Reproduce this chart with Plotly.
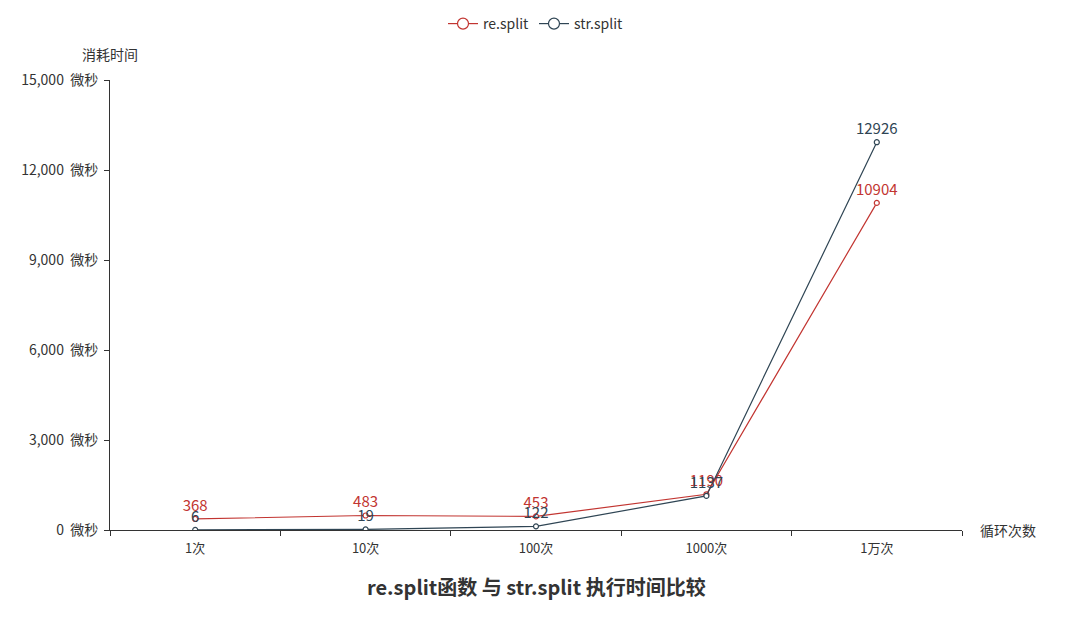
import plotly.graph_objects as go

categories = ["1次", "10次", "100次", "1000次", "1万次"]
re_split = [368, 483, 453, 1190, 10904]
str_split = [6, 19, 122, 1137, 12926]
y_ticks = [0, 3000, 6000, 9000, 12000, 15000]

red = "#c23531"
blue = "#2f4554"
font = "Noto Sans CJK SC"

fig = go.Figure()

for name, vals, color in [("re.split", re_split, red), ("str.split", str_split, blue)]:
    fig.add_trace(go.Scatter(
        x=categories, y=vals, name=name, mode="lines+markers", showlegend=False,
        line=dict(color=color, width=1.2),
        marker=dict(symbol="circle", size=5, color="white", line=dict(color=color, width=1.2)),
    ))

# data labels, shifted a little above the points
for vals, color in [(re_split, red), (str_split, blue)]:
    fig.add_trace(go.Scatter(
        x=categories, y=[v + 150 for v in vals], mode="text", text=[str(v) for v in vals],
        textposition="top center", textfont=dict(color=color, size=15, family=font),
        showlegend=False, hoverinfo="skip",
    ))

# legend entries with bigger hollow circles
for name, color in [("re.split", red), ("str.split", blue)]:
    fig.add_trace(go.Scatter(
        x=[None], y=[None], name=name, mode="lines+markers",
        line=dict(color=color, width=1.2),
        marker=dict(symbol="circle", size=11, color="white", line=dict(color=color, width=1.2)),
    ))

fig.update_xaxes(
    type="category", range=[-0.5, 4.5], tickson="boundaries",
    showline=True, linecolor="#333", linewidth=1,
    ticks="outside", ticklen=5, tickcolor="#333", ticklabelstandoff=6,
    showgrid=False, zeroline=False, automargin=False,
    tickfont=dict(size=13, color="#333", family=font),
)
fig.update_yaxes(
    range=[0, 15000], tickvals=y_ticks,
    ticktext=[f"{v:,}\u00a0\u00a0微秒" for v in y_ticks],
    showline=True, linecolor="#333", linewidth=1,
    ticks="outside", ticklen=5, tickcolor="#333", ticklabelstandoff=3,
    showgrid=False, zeroline=False, automargin=False,
    tickfont=dict(size=14, color="#333", family=font),
)

fig.update_layout(
    width=1080, height=643,
    margin=dict(l=102, r=126, t=72, b=121),
    plot_bgcolor="white", paper_bgcolor="white",
    font=dict(family=font, color="#333"),
    legend=dict(orientation="h", x=0.5, xanchor="center", y=1.0, yanchor="top",
                yref="container", font=dict(size=14, color="#333")),
    annotations=[
        dict(text="消耗时间", x=0, y=1, xref="paper", yref="paper",
             xanchor="center", yanchor="bottom", yshift=14, xshift=0,
             showarrow=False, font=dict(size=14, color="#333")),
        dict(text="循环次数", x=1, y=0, xref="paper", yref="paper",
             xanchor="left", yanchor="middle", xshift=16,
             showarrow=False, font=dict(size=14, color="#333")),
        dict(text="<b>re.split函数 与 str.split 执行时间比较</b>", x=0.5, y=0, xref="paper", yref="paper",
             xanchor="center", yanchor="top", yshift=-40,
             showarrow=False, font=dict(size=20, color="#333")),
    ],
)

fig.write_html("out.html")
